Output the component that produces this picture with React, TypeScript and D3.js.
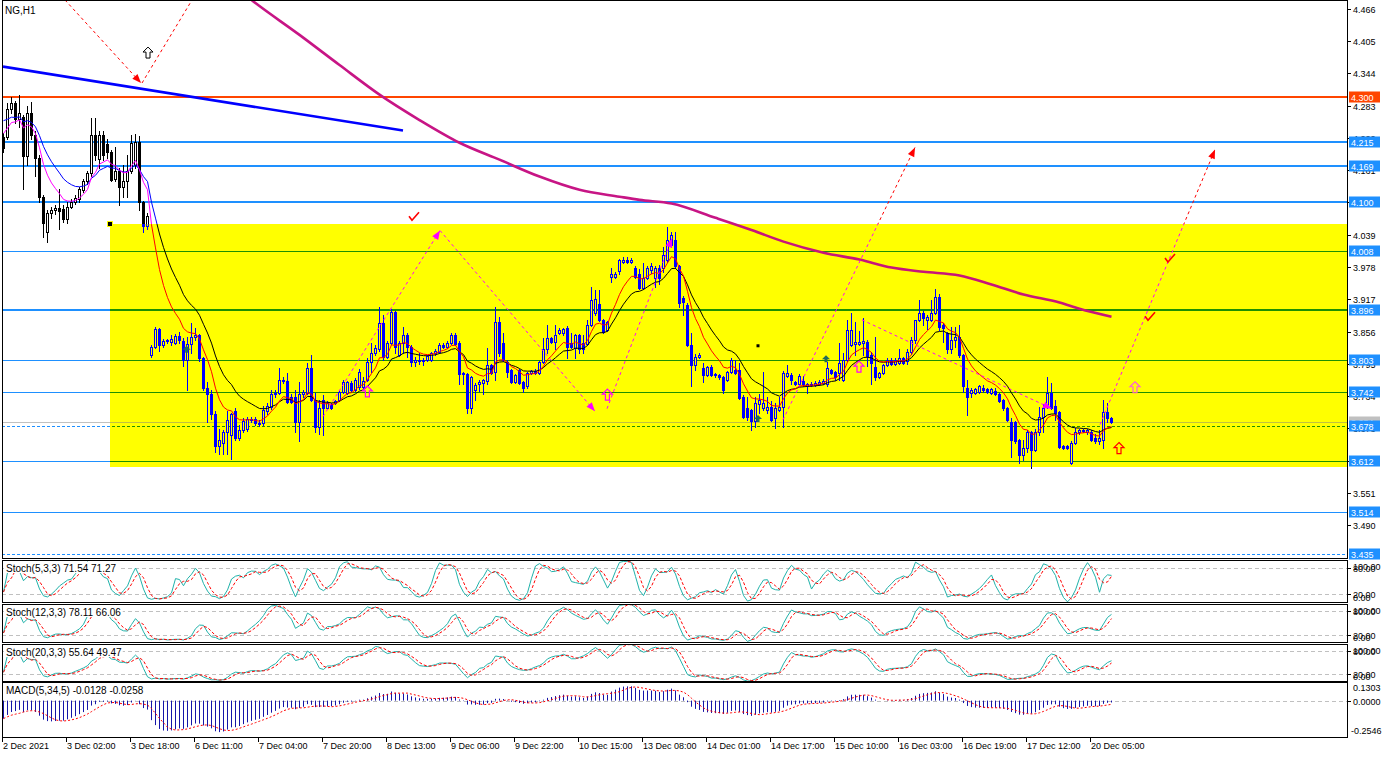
import React from "react";
import * as d3 from "d3";

// ---------- DATA (NG, H1) ----------
const opens = [
4.224,4.224,4.277,4.288,4.257,4.262,4.187,4.270,4.228,4.185,
4.110,4.045,4.080,4.086,4.089,4.088,4.068,4.092,4.101,4.106,
4.124,4.140,4.156,4.228,4.182,4.228,4.210,4.196,4.145,4.160,
4.130,4.140,4.160,4.170,4.215,4.100,4.055,3.812,3.827,3.860,
3.830,3.838,3.836,3.835,3.847,3.838,3.802,3.832,3.845,3.849,
3.805,3.750,3.738,3.700,3.640,3.645,3.665,3.660,3.705,3.655,
3.670,3.672,3.688,3.690,3.683,3.682,3.705,3.713,3.737,3.740,
3.765,3.762,3.733,3.733,3.684,3.737,3.740,3.787,3.727,3.676,
3.727,3.712,3.719,3.721,3.727,3.742,3.740,3.758,3.746,3.751,
3.751,3.765,3.799,3.816,3.822,3.873,3.808,3.835,3.892,3.812,
3.835,3.850,3.827,3.799,3.803,3.800,3.803,3.803,3.816,3.818,
3.831,3.827,3.835,3.850,3.835,3.778,3.775,3.712,3.746,3.756,
3.759,3.763,3.793,3.780,3.874,3.835,3.799,3.784,3.761,3.784,
3.761,3.752,3.778,3.782,3.778,3.799,3.822,3.844,3.837,3.854,
3.854,3.863,3.835,3.825,3.850,3.835,3.833,3.869,3.891,3.908,
3.878,3.859,3.960,3.960,3.971,3.988,3.992,3.988,3.977,3.964,
3.939,3.958,3.973,3.958,3.977,3.977,3.992,4.020,4.030,3.980,
3.920,3.907,3.831,3.793,3.808,3.787,3.774,3.789,3.776,3.774,
3.770,3.765,3.780,3.784,3.784,3.733,3.712,3.708,3.686,3.718,
3.712,3.708,3.714,3.693,3.708,3.714,3.771,3.774,3.761,3.756,
3.763,3.752,3.757,3.755,3.756,3.758,3.756,3.784,3.780,3.778,
3.765,3.803,3.831,3.833,3.833,3.835,3.837,3.812,3.789,3.770,
3.778,3.793,3.803,3.795,3.797,3.806,3.801,3.818,3.840,3.878,
3.891,3.878,3.878,3.891,3.922,3.869,3.854,3.822,3.840,3.846,
3.812,3.750,3.740,3.740,3.742,3.750,3.748,3.740,3.744,3.738,
3.727,3.712,3.684,3.684,3.651,3.623,3.636,3.666,3.632,3.666,
3.695,3.714,3.740,3.716,3.703,3.640,3.640,3.608,3.646,3.665,
3.669,3.665,3.665,3.655,3.648,3.651,3.703,3.693];
const highs = [
4.232,4.289,4.300,4.292,4.304,4.266,4.283,4.290,4.235,4.190,
4.115,4.085,4.092,4.095,4.125,4.095,4.100,4.107,4.115,4.130,
4.145,4.160,4.260,4.260,4.236,4.236,4.220,4.200,4.205,4.165,
4.170,4.190,4.228,4.230,4.225,4.102,4.080,3.830,3.865,3.862,
3.842,3.842,3.850,3.852,3.855,3.843,3.845,3.873,3.862,3.852,
3.808,3.760,3.745,3.705,3.672,3.670,3.705,3.702,3.712,3.680,
3.692,3.695,3.694,3.694,3.688,3.715,3.720,3.745,3.745,3.787,
3.770,3.778,3.737,3.746,3.761,3.746,3.797,3.812,3.740,3.727,
3.735,3.724,3.721,3.727,3.744,3.765,3.763,3.762,3.768,3.785,
3.770,3.806,3.835,3.830,3.903,3.888,3.838,3.898,3.895,3.838,
3.865,3.854,3.830,3.808,3.816,3.805,3.811,3.818,3.822,3.835,
3.835,3.838,3.854,3.854,3.838,3.780,3.778,3.772,3.758,3.765,
3.767,3.825,3.795,3.903,3.884,3.854,3.803,3.786,3.776,3.786,
3.763,3.780,3.784,3.785,3.801,3.844,3.869,3.846,3.869,3.862,
3.863,3.866,3.854,3.852,3.852,3.850,3.878,3.941,3.935,3.935,
3.880,3.876,3.977,3.968,3.994,3.996,3.996,3.995,3.980,3.975,
3.986,3.980,3.985,3.980,3.981,4.015,4.054,4.045,4.045,3.982,
3.924,3.910,3.854,3.814,3.815,3.797,3.791,3.792,3.778,3.776,
3.772,3.782,3.806,3.803,3.797,3.735,3.733,3.710,3.733,3.737,
3.780,3.733,3.725,3.721,3.733,3.782,3.793,3.778,3.763,3.776,
3.771,3.759,3.760,3.763,3.765,3.767,3.799,3.786,3.782,3.835,
3.816,3.878,3.891,3.874,3.857,3.882,3.840,3.818,3.846,3.780,
3.795,3.806,3.806,3.805,3.822,3.808,3.822,3.846,3.878,3.916,
3.895,3.888,3.916,3.937,3.926,3.873,3.856,3.865,3.865,3.869,
3.814,3.765,3.750,3.750,3.754,3.754,3.750,3.750,3.750,3.740,
3.729,3.714,3.693,3.686,3.653,3.651,3.670,3.668,3.672,3.714,
3.718,3.770,3.759,3.727,3.706,3.642,3.642,3.648,3.674,3.672,
3.672,3.672,3.670,3.663,3.670,3.727,3.721,3.695];
const lows = [
4.195,4.220,4.270,4.250,4.243,4.125,4.170,4.220,4.150,4.100,
4.035,4.025,4.070,4.078,4.050,4.063,4.062,4.090,4.097,4.100,
4.120,4.135,4.150,4.180,4.165,4.180,4.185,4.140,4.140,4.095,
4.110,4.110,4.155,4.165,4.085,4.045,4.050,3.808,3.825,3.820,
3.826,3.834,3.830,3.832,3.835,3.790,3.745,3.815,3.840,3.800,
3.745,3.685,3.690,3.628,3.625,3.625,3.625,3.615,3.650,3.650,
3.665,3.668,3.684,3.680,3.678,3.680,3.700,3.710,3.733,3.738,
3.758,3.720,3.720,3.665,3.648,3.733,3.738,3.725,3.665,3.663,
3.661,3.710,3.710,3.719,3.725,3.740,3.738,3.743,3.744,3.748,
3.748,3.763,3.780,3.812,3.820,3.803,3.805,3.833,3.816,3.810,
3.816,3.808,3.790,3.790,3.795,3.792,3.801,3.801,3.812,3.815,
3.825,3.825,3.833,3.830,3.756,3.756,3.702,3.702,3.727,3.744,
3.738,3.756,3.775,3.765,3.810,3.800,3.769,3.759,3.759,3.757,
3.742,3.750,3.776,3.776,3.776,3.797,3.816,3.835,3.822,3.852,
3.850,3.806,3.825,3.806,3.816,3.816,3.830,3.866,3.888,3.875,
3.854,3.857,3.950,3.958,3.964,3.986,3.986,3.986,3.958,3.937,
3.937,3.956,3.966,3.941,3.945,3.969,3.988,4.015,3.977,3.902,
3.888,3.828,3.752,3.784,3.806,3.761,3.772,3.772,3.770,3.766,
3.740,3.762,3.778,3.776,3.729,3.693,3.689,3.670,3.676,3.702,
3.708,3.701,3.687,3.674,3.706,3.676,3.769,3.757,3.754,3.753,
3.752,3.740,3.752,3.752,3.754,3.756,3.752,3.775,3.765,3.765,
3.763,3.800,3.829,3.812,3.831,3.812,3.790,3.756,3.765,3.768,
3.776,3.791,3.793,3.793,3.795,3.795,3.795,3.814,3.835,3.876,
3.869,3.861,3.876,3.889,3.859,3.837,3.816,3.816,3.827,3.808,
3.742,3.699,3.733,3.738,3.740,3.742,3.740,3.738,3.735,3.723,
3.708,3.687,3.619,3.646,3.608,3.613,3.629,3.598,3.630,3.661,
3.666,3.712,3.710,3.689,3.636,3.634,3.634,3.606,3.644,3.663,
3.665,3.663,3.648,3.646,3.644,3.636,3.684,3.682];
const closes = [
4.204,4.277,4.288,4.257,4.270,4.187,4.270,4.228,4.185,4.110,
4.062,4.080,4.086,4.089,4.083,4.068,4.092,4.101,4.108,4.126,
4.140,4.156,4.228,4.190,4.228,4.190,4.195,4.143,4.160,4.130,
4.140,4.160,4.213,4.215,4.100,4.055,4.075,3.827,3.860,3.830,
3.838,3.840,3.841,3.847,3.840,3.802,3.832,3.845,3.849,3.805,
3.750,3.738,3.700,3.640,3.650,3.665,3.688,3.700,3.655,3.670,
3.687,3.690,3.690,3.683,3.681,3.707,3.715,3.737,3.740,3.765,
3.762,3.723,3.723,3.684,3.737,3.742,3.787,3.727,3.676,3.712,
3.712,3.721,3.712,3.725,3.742,3.761,3.761,3.745,3.765,3.780,
3.763,3.799,3.816,3.825,3.873,3.808,3.835,3.893,3.826,3.835,
3.850,3.827,3.799,3.803,3.800,3.803,3.809,3.816,3.820,3.831,
3.827,3.835,3.850,3.833,3.775,3.775,3.712,3.770,3.755,3.761,
3.765,3.793,3.778,3.874,3.816,3.803,3.780,3.761,3.774,3.759,
3.750,3.778,3.782,3.778,3.799,3.822,3.844,3.837,3.850,3.859,
3.861,3.827,3.827,3.850,3.822,3.822,3.869,3.916,3.918,3.878,
3.856,3.874,3.965,3.965,3.992,3.992,3.988,3.992,3.960,3.939,
3.958,3.977,3.979,3.977,3.958,4.000,4.030,4.039,3.980,3.909,
3.912,3.831,3.793,3.808,3.812,3.774,3.789,3.774,3.774,3.770,
3.746,3.780,3.803,3.778,3.731,3.695,3.695,3.686,3.721,3.727,
3.721,3.714,3.689,3.712,3.714,3.778,3.778,3.765,3.756,3.771,
3.756,3.757,3.755,3.758,3.761,3.763,3.787,3.778,3.769,3.797,
3.803,3.859,3.859,3.837,3.837,3.838,3.810,3.797,3.770,3.778,
3.793,3.803,3.795,3.803,3.806,3.797,3.818,3.840,3.878,3.891,
3.882,3.884,3.891,3.922,3.865,3.863,3.822,3.840,3.846,3.812,
3.752,3.733,3.746,3.748,3.752,3.746,3.742,3.748,3.738,3.725,
3.712,3.689,3.651,3.648,3.623,3.636,3.666,3.632,3.666,3.695,
3.712,3.740,3.712,3.701,3.638,3.636,3.636,3.646,3.665,3.670,
3.667,3.670,3.651,3.648,3.655,3.703,3.693,3.684];

// long moving average
const longMaBars = [60,62,74,84,94,104,114,124,134,144,154,159,167,178,187,195,205,214,222,230,239,247,255,264,269,277];
const longMaVals = [4.495,4.483,4.417,4.360,4.304,4.256,4.213,4.181,4.149,4.124,4.111,4.105,4.098,4.071,4.048,4.026,4.005,3.992,3.977,3.969,3.962,3.945,3.926,3.911,3.899,3.884];

const timeLabels = ["2 Dec 2021","3 Dec 02:00","3 Dec 18:00","6 Dec 11:00","7 Dec 04:00","7 Dec 20:00","8 Dec 13:00","9 Dec 06:00","9 Dec 22:00","10 Dec 15:00","13 Dec 08:00","14 Dec 01:00","14 Dec 17:00","15 Dec 10:00","16 Dec 03:00","16 Dec 19:00","17 Dec 12:00","20 Dec 05:00"];
const timeLabelBars = [0,16,32,48,64,80,96,112,128,144,160,176,192,208,224,240,256,272];

const priceTicks = [4.466,4.405,4.344,4.283,4.222,4.161,4.100,4.039,3.978,3.917,3.856,3.795,3.734,3.673,3.612,3.551,3.490];

const levelPrices = [4.300,4.215,4.169,4.100,4.008,3.896,3.803,3.742,3.678,3.612,3.514,3.435];
const thickLevels = [4.300,4.215,4.169,4.100,3.896];
const dashedLevels = [3.678,3.435];
const bidPrice = 3.684;

// rectangle zone (bar start, top price, bottom price)
const zoneStartBar = 26.75;
const zoneTop = 4.060;
const zoneBottom = 3.600;

// trend line
const trendBars = [0, 100];
const trendVals = [4.357, 4.236];

// dashed arrow lines
const dashBars1 = [15.5, 34.75, 80, 109.25, 151, 195, 214.75, 274.25];
const dashVals1 = [4.483, 4.326, 3.695, 4.047, 3.710, 3.689, 3.878, 3.680];
const dashBars2 = [34.5, 47.25, 109.25, 148, 167.25, 228, 262.25, 303];
const dashVals2 = [4.326, 4.483, 4.047, 3.705, 4.032, 4.204, 3.710, 4.200];
const dashArrow = [1, 0, 1, 1, 1, 1, 1, 1];

// markers
const hollowWhiteBars = [36.25]; const hollowWhiteVals = [4.394];
const hollowMagBars = [91.1, 151.1, 214]; const hollowMagVals = [3.753, 3.747, 3.800];
const hollowPinkBars = [283]; const hollowPinkVals = [3.761];
const hollowRedBars = [279]; const hollowRedVals = [3.646];
const greenArrowBars = [45.9, 188.75, 205.75]; const greenArrowVals = [3.829, 3.698, 3.811];
const checkBars = [102.75, 291.75, 286.75]; const checkVals = [4.074, 3.995, 3.885];

const stochParams = [[5,3,3],[12,3,3],[20,3,3]];
const stochTitles = ["Stoch(5,3,3) 71.54 71.27","Stoch(12,3,3) 78.11 66.06","Stoch(20,3,3) 55.64 49.47"];
const macdTitle = "MACD(5,34,5) -0.0128 -0.0258";
const macdRange = [-0.2546, 0.1303];
const emaSeeds = { fast: 4.238, slow: 4.262, m5: 4.215, m34: 4.345 };

// ---------- helpers ----------
function ema(vals: number[], period: number, seed: number) {
  const a = 2 / (period + 1);
  let p = seed;
  return vals.map(v => (p = p + a * (v - p)));
}
function stochastic(kP: number, sP: number, dP: number) {
  const n = closes.length;
  const ll: number[] = [], hh: number[] = [];
  for (let i = 0; i < n; i++) {
    const s = Math.max(0, i - kP + 1);
    ll.push(d3.min(lows.slice(s, i + 1)) as number);
    hh.push(d3.max(highs.slice(s, i + 1)) as number);
  }
  const K: number[] = [];
  for (let i = 0; i < n; i++) {
    const s = Math.max(0, i - sP + 1);
    let num = 0, den = 0;
    for (let j = s; j <= i; j++) { num += closes[j] - ll[j]; den += hh[j] - ll[j]; }
    K.push(den > 0 ? (100 * num) / den : 50);
  }
  const D = K.map((_, i) => d3.mean(K.slice(Math.max(0, i - dP + 1), i + 1)) as number);
  return { K, D };
}

const FONT = "'Liberation Sans', Arial, sans-serif";
const BLUE_LVL = "#1e90ff";

function hollowArrowPath(cx: number, ty: number) {
  return `M${cx},${ty} L${cx + 5},${ty + 5} L${cx + 2},${ty + 5} L${cx + 2},${ty + 11} L${cx - 2},${ty + 11} L${cx - 2},${ty + 5} L${cx - 5},${ty + 5} Z`;
}
function smallArrowPath(cx: number, ty: number) {
  return `M${cx},${ty} L${cx + 4},${ty + 4} L${cx + 1.5},${ty + 4} L${cx + 1.5},${ty + 7} L${cx - 1.5},${ty + 7} L${cx - 1.5},${ty + 4} L${cx - 4},${ty + 4} Z`;
}

export default function App() {
  const n = closes.length;
  const x = d3.scaleLinear().domain([0, 1]).range([3, 7]);
  const y = d3.scaleLinear().domain([3.4276, 4.483]).range([558, 0]);
  const PL = 2, PR = 1347;

  const fast = ema(closes, 8, emaSeeds.fast);
  const slow = ema(closes, 15, emaSeeds.slow);
  const maLine = d3.line<number>().x((_, i) => x(i) + 0.5).y(v => y(v));
  const longLine = d3.line<number>().x((_, i) => x(longMaBars[i]) + 0.5).y(v => y(v)).curve(d3.curveMonotoneX);
  const idx = d3.range(n);

  const candles = idx.map(i => {
    const cx = Math.round(x(i));
    const o = opens[i], c = closes[i];
    const yh = Math.round(y(highs[i])), yl = Math.round(y(lows[i]));
    const top = Math.round(y(Math.max(o, c))), bot = Math.round(y(Math.min(o, c)));
    const bull = c > o;
    return (
      <g key={i}>
        <rect x={cx} y={yh} width={1} height={Math.max(1, yl - yh + 1)} fill="#000" />
        {bull && bot - top >= 1 ? (
          <rect x={cx - 0.5} y={top + 0.5} width={2} height={bot - top} fill="#fff" stroke="#000" strokeWidth={1} />
        ) : (
          <rect x={cx - 1} y={top} width={3} height={Math.max(1, bot - top + 1)} fill="#000" />
        )}
      </g>
    );
  });

  const arrowHead = (x1: number, y1: number, x2: number, y2: number, color: string) => {
    const ang = Math.atan2(y2 - y1, x2 - x1);
    const L = 9, Wd = 3.5;
    const bx = x2 - L * Math.cos(ang), by = y2 - L * Math.sin(ang);
    const px = -Math.sin(ang) * Wd, py = Math.cos(ang) * Wd;
    return <path d={`M${x2},${y2} L${bx + px},${by + py} L${bx - px},${by - py} Z`} fill={color} />;
  };

  const stochPanels = [
    { top: 560, bottom: 602 },
    { top: 604, bottom: 642 },
    { top: 644, bottom: 681 },
  ];
  const macdPanel = { top: 682, bottom: 737 };

  const m5 = ema(closes, 5, emaSeeds.m5);
  const m34 = ema(closes, 34, emaSeeds.m34);
  const macd = m5.map((v, i) => v - m34[i]);
  const signal = macd.map((_, i) => d3.mean(macd.slice(Math.max(0, i - 4), i + 1)) as number);
  const ym = d3.scaleLinear().domain(macdRange).range([macdPanel.bottom, macdPanel.top]);

  const zoneX = Math.round(x(zoneStartBar));
  const zoneY1 = Math.round(y(zoneTop));
  const zoneY2 = Math.round(y(zoneBottom));

  const lvlY = (p: number) => Math.round(y(p));

  return (
    <svg width={1390} height={757} style={{ position: "absolute", left: 0, top: 0, fontFamily: FONT }}>
      <rect x={0} y={0} width={1390} height={757} fill="#fff" />
      <defs>
        <clipPath id="mainClip"><rect x={PL + 1} y={1} width={PR - PL - 1} height={557} /></clipPath>
        {stochPanels.map((p, k) => (
          <clipPath id={`sc${k}`} key={k}><rect x={PL + 1} y={p.top + 1} width={PR - PL - 1} height={p.bottom - p.top - 1} /></clipPath>
        ))}
        <clipPath id="mc"><rect x={PL + 1} y={macdPanel.top + 1} width={PR - PL - 1} height={macdPanel.bottom - macdPanel.top - 1} /></clipPath>
      </defs>

      {/* ---------- MAIN PANEL ---------- */}
      <g clipPath="url(#mainClip)" style={{ isolation: "isolate" }}>
        <rect x={0} y={0} width={1390} height={560} fill="#fff" />
        {levelPrices.map((p, k) => {
          const thick = thickLevels.includes(p);
          const dashed = dashedLevels.includes(p);
          const col = p === 4.3 ? "#ff4500" : BLUE_LVL;
          const yy = lvlY(p) + (thick ? 0 : 0.5);
          return <line key={k} x1={PL} x2={PR} y1={yy} y2={yy} stroke={col} strokeWidth={thick ? 2 : 1} strokeDasharray={dashed ? "3,2" : undefined} />;
        })}
        <line x1={PL} x2={PR} y1={lvlY(bidPrice) + 0.5} y2={lvlY(bidPrice) + 0.5} stroke="#c0c0c0" strokeWidth={1} />
        <line x1={x(trendBars[0])} y1={y(trendVals[0])} x2={x(trendBars[1])} y2={y(trendVals[1])} stroke="#0000ff" strokeWidth={2.6} />
        <path d={longLine(longMaVals) || ""} fill="none" stroke="#c71585" strokeWidth={2.6} />
        {candles}
        <path d={maLine(slow) || ""} fill="none" stroke="#0000ff" strokeWidth={1} />
        <path d={maLine(fast) || ""} fill="none" stroke="#ff00ff" strokeWidth={1} />
        {dashBars1.map((b, k) => {
          const x1 = x(b), y1 = y(dashVals1[k]), x2 = x(dashBars2[k]), y2 = y(dashVals2[k]);
          return (
            <g key={k}>
              <line x1={x1} y1={y1} x2={x2} y2={y2} stroke="#ff0000" strokeWidth={1} strokeDasharray="3,3" />
              {dashArrow[k] ? arrowHead(x1, y1, x2, y2, "#ff0000") : null}
            </g>
          );
        })}
        {/* rectangle zone: inverts the blue channel like the terminal's XOR drawing */}
        <rect x={zoneX} y={zoneY1} width={PR - zoneX} height={zoneY2 - zoneY1} fill="#0000ff" style={{ mixBlendMode: "difference" }} />
        {/* markers */}
        {hollowWhiteBars.map((b, k) => <path key={"hw" + k} d={hollowArrowPath(x(b), y(hollowWhiteVals[k]))} fill="#fff" stroke="#000" strokeWidth={1} />)}
        {hollowMagBars.map((b, k) => <path key={"hm" + k} d={hollowArrowPath(x(b), y(hollowMagVals[k]))} fill="none" stroke="#ff00ff" strokeWidth={1.2} />)}
        {hollowPinkBars.map((b, k) => <path key={"hp" + k} d={hollowArrowPath(x(b), y(hollowPinkVals[k]))} fill="none" stroke="#ff5fd0" strokeWidth={1.2} />)}
        {hollowRedBars.map((b, k) => <path key={"hr" + k} d={hollowArrowPath(x(b), y(hollowRedVals[k]))} fill="none" stroke="#ff0000" strokeWidth={1.2} />)}
        {greenArrowBars.map((b, k) => <path key={"ga" + k} d={smallArrowPath(x(b), y(greenArrowVals[k]))} fill="#1f6b5b" />)}
        {checkBars.map((b, k) => {
          const cx = x(b), cy = y(checkVals[k]);
          return <path key={"ck" + k} d={`M${cx - 5},${cy} L${cx - 2},${cy + 4} L${cx + 5},${cy - 4}`} fill="none" stroke="#ff0000" strokeWidth={1.6} />;
        })}
        <rect x={zoneX - 3} y={zoneY1 - 3} width={6} height={6} fill="#ffff00" />
        <rect x={zoneX - 2} y={zoneY1 - 2} width={4} height={4} fill="#000" />
        <rect x={x(188.75) - 1.5} y={y(3.829) - 1.5} width={3} height={3} fill="#000" />
      </g>
      <text x={5} y={14} fontSize={10} fill="#000">NG,H1</text>
      <rect x={PL + 0.5} y={0.5} width={PR - PL} height={558} fill="none" stroke="#000" />

      {/* main price axis */}
      {priceTicks.map((p, k) => (
        <g key={k}>
          <line x1={PR} x2={PR + 4} y1={lvlY(p) + 0.5} y2={lvlY(p) + 0.5} stroke="#000" />
          <text x={PR + 6} y={lvlY(p) + 3.5} fontSize={9} fill="#000">{p.toFixed(3)}</text>
        </g>
      ))}
      <g>
        <rect x={PR + 2} y={lvlY(bidPrice) - 5.5} width={31} height={11} fill="#c0c0c0" />
        <text x={PR + 4} y={lvlY(bidPrice) + 3.5} fontSize={9} fill="#fff">{bidPrice.toFixed(3)}</text>
      </g>
      {levelPrices.map((p, k) => (
        <g key={k}>
          <rect x={PR + 2} y={lvlY(p) - 5.5} width={31} height={11} fill={p === 4.3 ? "#ff4500" : BLUE_LVL} />
          <text x={PR + 4} y={lvlY(p) + 3.5} fontSize={9} fill="#fff">{p.toFixed(3)}</text>
        </g>
      ))}

      {/* ---------- STOCH PANELS ---------- */}
      {stochPanels.map((pn, k) => {
        const [kp, sp, dp] = stochParams[k];
        const { K, D } = stochastic(kp, sp, dp);
        const ys = d3.scaleLinear().domain([0, 100]).range([pn.bottom + 0.5, pn.top - 0.5]);
        const ln = d3.line<number>().x((_, i) => x(i) + 0.5).y(v => ys(v));
        const y80 = Math.round(ys(80)) + 0.5, y20 = Math.round(ys(20)) + 0.5;
        return (
          <g key={k}>
            <g clipPath={`url(#sc${k})`}>
              <line x1={PL} x2={PR} y1={y80} y2={y80} stroke="#c0c0c0" strokeDasharray="4,3" />
              <line x1={PL} x2={PR} y1={y20} y2={y20} stroke="#c0c0c0" strokeDasharray="4,3" />
              <path d={ln(K) || ""} fill="none" stroke="#20b2aa" strokeWidth={1} />
              <path d={ln(D) || ""} fill="none" stroke="#ff0000" strokeWidth={1} strokeDasharray="3,2" />
              <rect x={PL + 2} y={pn.top + 2} width={stochTitles[k].length * 4.75} height={11} fill="#fff" />
              <text x={6} y={pn.top + 12} fontSize={10} fill="#000">{stochTitles[k]}</text>
            </g>
            <rect x={PL + 0.5} y={pn.top + 0.5} width={PR - PL} height={pn.bottom - pn.top} fill="none" stroke="#000" />
            <line x1={PR} x2={PR + 4} y1={y80} y2={y80} stroke="#000" />
            <line x1={PR} x2={PR + 4} y1={y20} y2={y20} stroke="#000" />
            <text x={PR + 6} y={pn.top + 10} fontSize={9}>100.00</text>
            <text x={PR + 6} y={y80 + 3.5} fontSize={9}>80.00</text>
            <text x={PR + 6} y={y20 + 3.5} fontSize={9}>20.00</text>
            <text x={PR + 6} y={pn.bottom - 1} fontSize={9}>0.00</text>
          </g>
        );
      })}

      {/* ---------- MACD ---------- */}
      <g clipPath="url(#mc)">
        <line x1={PL} x2={PR} y1={Math.round(ym(0)) + 0.5} y2={Math.round(ym(0)) + 0.5} stroke="#c0c0c0" strokeDasharray="4,3" />
        {macd.map((v, i) => (
          <line key={i} x1={Math.round(x(i)) + 0.5} x2={Math.round(x(i)) + 0.5} y1={ym(0)} y2={ym(v)} stroke="#1515a8" strokeWidth={1} />
        ))}
        <path d={d3.line<number>().x((_, i) => x(i) + 0.5).y(v => ym(v))(signal) || ""} fill="none" stroke="#ff0000" strokeWidth={1} strokeDasharray="2,2" />
        <rect x={PL + 2} y={macdPanel.top + 2} width={macdTitle.length * 4.6} height={11} fill="#fff" />
        <text x={6} y={macdPanel.top + 12} fontSize={10} fill="#000">{macdTitle}</text>
      </g>
      <rect x={PL + 0.5} y={macdPanel.top + 0.5} width={PR - PL} height={macdPanel.bottom - macdPanel.top} fill="none" stroke="#000" />
      <line x1={PR} x2={PR + 4} y1={Math.round(ym(0)) + 0.5} y2={Math.round(ym(0)) + 0.5} stroke="#000" />
      <text x={PR + 6} y={macdPanel.top + 9} fontSize={9}>{macdRange[1].toFixed(4)}</text>
      <text x={PR + 6} y={Math.round(ym(0)) + 3.5} fontSize={9}>0.0000</text>
      <text x={PR + 4} y={macdPanel.bottom - 3} fontSize={9}>{macdRange[0].toFixed(4)}</text>

      {/* ---------- TIME AXIS ---------- */}
      {timeLabelBars.map((b, k) => (
        <g key={k}>
          <line x1={Math.round(x(b)) - 0.5} x2={Math.round(x(b)) - 0.5} y1={737} y2={742} stroke="#000" />
          <text x={Math.round(x(b))} y={749} fontSize={9} fill="#000">{timeLabels[k]}</text>
        </g>
      ))}
    </svg>
  );
}
